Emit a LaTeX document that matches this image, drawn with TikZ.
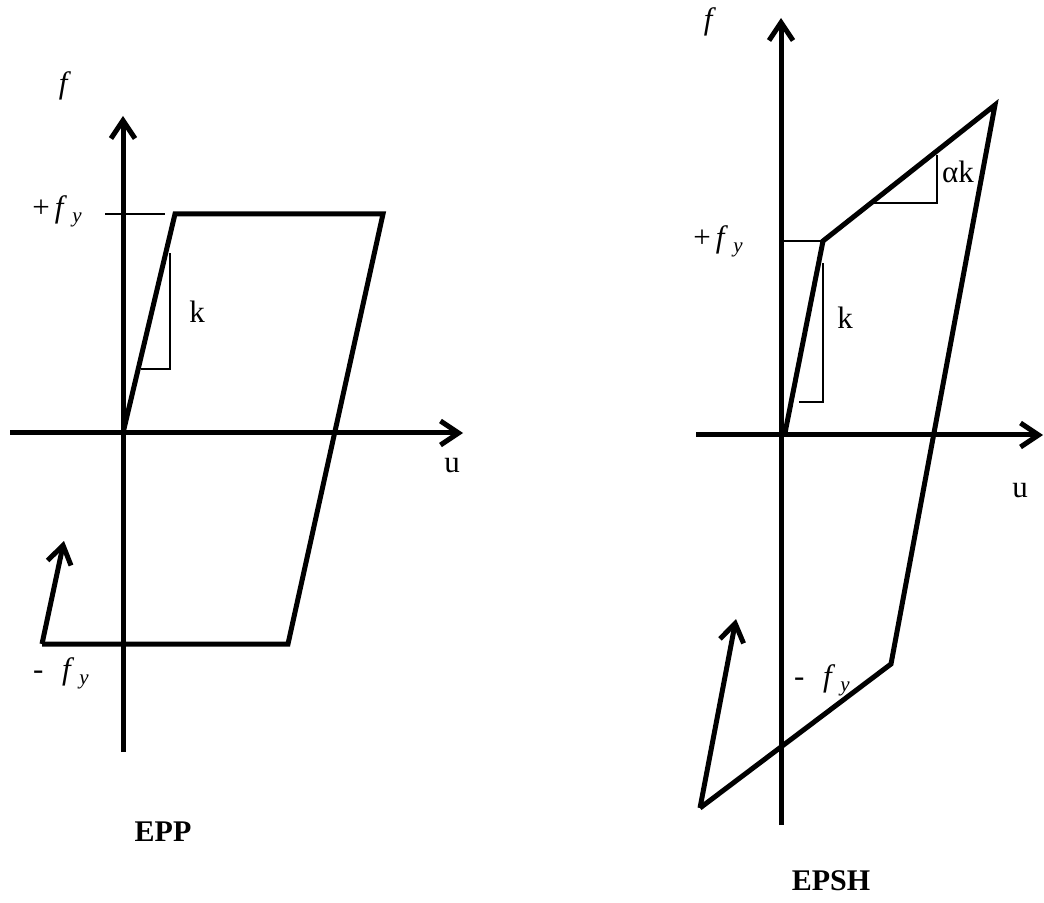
\documentclass[tikz,border=0pt]{standalone}
\usepackage{fontspec}
\setmainfont{Liberation Serif}
\usetikzlibrary{arrows.meta}
\tikzset{
  thickln/.style={line width=2.5pt},
  thinln/.style={line width=0.7pt},
  axisarrow/.style={line width=2.5pt,-{Straight Barb[length=9pt,width=12pt]}},
  lbl/.style={inner sep=0pt,font=\fontsize{15.5}{18}\selectfont},
  ttl/.style={inner sep=0pt,font=\fontsize{15}{18}\selectfont\bfseries}
}
\newcommand{\fy}{\textit{f}\,\raisebox{-0.35ex}{\fontsize{10.5}{12}\selectfont\textit{y}}}
\begin{document}
\begin{tikzpicture}[x=0.5pt,y=-0.5pt]
\useasboundingbox (0,0) rectangle (1044,903);
% ---------- left: EPP ----------
\coordinate (LYb) at (123,752);
\coordinate (LYt) at (123,116);
\coordinate (LXl) at (10,433);
\coordinate (LXr) at (463,433);
\coordinate (LO) at (123,433);
\coordinate (LA) at (175,214);
\coordinate (LB) at (383,214);
\coordinate (LC) at (288,644);
\coordinate (LD) at (42,644);
\coordinate (LE) at (64,541);
\coordinate (LT1) at (105,214);
\coordinate (LT2) at (165,214);
\coordinate (LK1) at (141,369);
\coordinate (LK2) at (170,369);
\coordinate (LK3) at (170,253);
\draw[axisarrow] (LYb) -- (LYt);
\draw[axisarrow] (LXl) -- (LXr);
\draw[thinln] (LT1) -- (LT2);
\draw[thinln] (LK1) -- (LK2) -- (LK3);
\draw[thickln] (LO) -- (LA) -- (LB) -- (LC) -- (LD);
\draw[axisarrow] (LD) -- (LE);
\node[lbl] (Lf) at (65,86) {\textit{f}};
\node[lbl] (Lfy) at (57,211) {+\,\fy};
\node[lbl] (Lk) at (197,312) {k};
\node[lbl] (Lu) at (452,466) {u};
\node[lbl] (Lmfy) at (61,673) {-\hspace{0.6em}\fy};
\node[ttl] (Lt) at (163,832) {EPP};
% ---------- right: EPSH ----------
\coordinate (RYb) at (781,825);
\coordinate (RYt) at (781,18);
\coordinate (RXl) at (696,435);
\coordinate (RXr) at (1043,435);
\coordinate (RO) at (785,433);
\coordinate (RA) at (823,241);
\coordinate (RB) at (995,105);
\coordinate (RC) at (891,664);
\coordinate (RD) at (700,808);
\coordinate (RE) at (736,619);
\coordinate (RT1) at (781,241);
\coordinate (RK1) at (799,402);
\coordinate (RK2) at (823,402);
\coordinate (RK3) at (823,263);
\coordinate (RH1) at (873,203);
\coordinate (RH2) at (937,203);
\coordinate (RH3) at (937,155);
\draw[axisarrow] (RYb) -- (RYt);
\draw[axisarrow] (RXl) -- (RXr);
\draw[thinln] (RT1) -- (RA);
\draw[thinln] (RK1) -- (RK2) -- (RK3);
\draw[thinln] (RH1) -- (RH2) -- (RH3);
\draw[thickln] (RO) -- (RA) -- (RB) -- (RC) -- (RD);
\draw[axisarrow] (RD) -- (RE);
\node[lbl] (Rf) at (710,22) {\textit{f}};
\node[lbl] (Rfy) at (718,241) {+\,\fy};
\node[lbl] (Rk) at (845,318) {k};
\node[lbl] (Rak) at (958,172) {αk};
\node[lbl] (Ru) at (1020,491) {u};
\node[lbl] (Rmfy) at (822,680) {-\hspace{0.6em}\fy};
\node[ttl] (Rt) at (831,881) {EPSH};
\end{tikzpicture}
\end{document}
